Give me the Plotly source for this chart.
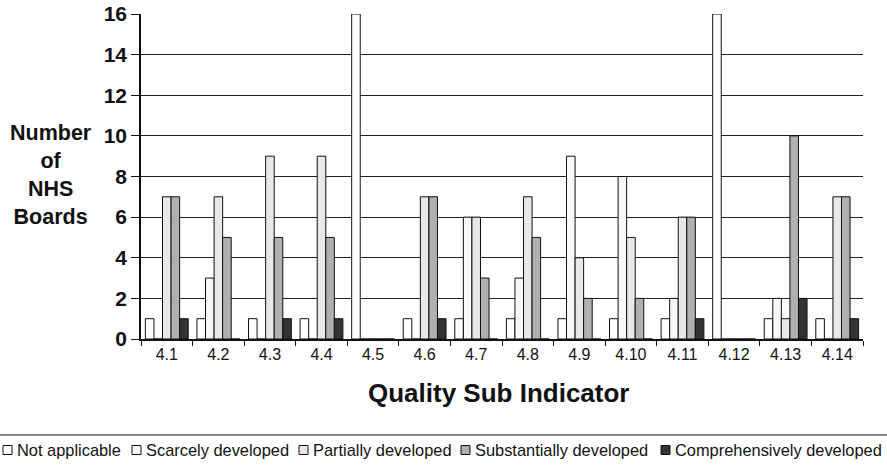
import plotly.graph_objects as go

categories = ["4.1", "4.2", "4.3", "4.4", "4.5", "4.6", "4.7", "4.8", "4.9", "4.10", "4.11", "4.12", "4.13", "4.14"]
not_applicable = [1, 1, 1, 1, 16, 1, 1, 1, 1, 1, 1, 16, 1, 1]
scarcely = [0, 3, 0, 0, 0, 0, 6, 3, 9, 8, 2, 0, 2, 0]
partially = [7, 7, 9, 9, 0, 7, 6, 7, 4, 5, 6, 0, 1, 7]
substantially = [7, 5, 5, 5, 0, 7, 3, 5, 2, 2, 6, 0, 10, 7]
comprehensively = [1, 0, 1, 1, 0, 1, 0, 0, 0, 0, 1, 0, 2, 1]
y_ticks = [0, 2, 4, 6, 8, 10, 12, 14, 16]

series_names = ["Not applicable", "Scarcely developed", "Partially developed",
                "Substantially developed", "Comprehensively developed"]
series_values = [not_applicable, scarcely, partially, substantially, comprehensively]
series_colors = ["#ffffff", "#f8f8f8", "#e8e8e8", "#b0b0b0", "#333333"]

FONT = "Arial, Liberation Sans, sans-serif"
INK = "#111111"

L, R, T, B = 141, 24, 14, 126
W, H = 887, 465
pw = W - L - R
ph = H - T - B


def px_x(px):
    return (px - L) / pw


def px_y(py):
    return (H - B - py) / ph


fig = go.Figure()
for name, vals, col in zip(series_names, series_values, series_colors):
    fig.add_trace(go.Bar(
        x=categories, y=vals, name=name, showlegend=False,
        marker=dict(color=col, line=dict(color=INK, width=1)),
    ))

# manual legend (compact, like the original)
legend_square_left = [3, 132, 299, 461, 661]
legend_y = 450
shapes = [dict(
    type="line", xref="paper", yref="paper",
    x0=px_x(0), x1=px_x(W), y0=px_y(435), y1=px_y(435),
    line=dict(color="#666666", width=1.5),
)]
annotations = [
    dict(
        text="<b>Number<br>of<br>NHS<br>Boards</b>", xref="paper", yref="paper",
        x=px_x(51), y=px_y(175), xanchor="center", yanchor="middle",
        showarrow=False, font=dict(size=21.5, color=INK, family=FONT), align="center",
    ),
    dict(
        text="<b>Quality Sub Indicator</b>", xref="paper", yref="paper",
        x=px_x(498), y=px_y(393), xanchor="center", yanchor="middle",
        showarrow=False, font=dict(size=26, color=INK, family=FONT),
    ),
]
for name, col, sx in zip(series_names, series_colors, legend_square_left):
    shapes.append(dict(
        type="rect", xref="paper", yref="paper",
        x0=px_x(sx), x1=px_x(sx + 9), y0=px_y(legend_y - 4.5), y1=px_y(legend_y + 4.5),
        fillcolor=col, line=dict(color=INK, width=1),
    ))
    annotations.append(dict(
        text=name, xref="paper", yref="paper", x=px_x(sx + 12), y=px_y(legend_y),
        xanchor="left", yanchor="middle", showarrow=False,
        font=dict(size=16.4, color=INK, family=FONT),
    ))

fig.update_layout(
    width=W, height=H,
    margin=dict(l=L, r=R, t=T, b=B, autoexpand=False),
    paper_bgcolor="white", plot_bgcolor="white",
    barmode="group", bargap=0.17, bargroupgap=0,
    font=dict(family=FONT, color=INK),
    showlegend=False,
    xaxis=dict(
        type="category", showline=True, linecolor=INK, linewidth=1.5,
        ticks="outside", tickson="boundaries", ticklen=5, tickcolor=INK,
        tickfont=dict(size=16, color=INK, family=FONT), automargin=False,
    ),
    yaxis=dict(
        range=[0, 16], tickvals=y_ticks, showline=True, linecolor=INK, linewidth=1.5,
        ticks="outside", ticklen=8, tickcolor=INK, automargin=False,
        tickfont=dict(size=21, color=INK, family=FONT, weight="bold"),
        showgrid=True, gridcolor="#222222", gridwidth=1, zeroline=False,
    ),
    annotations=annotations,
    shapes=shapes,
)

fig.write_html(
    "out.html",
    config={"displayModeBar": False},
    post_script="document.body.style.margin='0';document.body.style.padding='0';",
)
